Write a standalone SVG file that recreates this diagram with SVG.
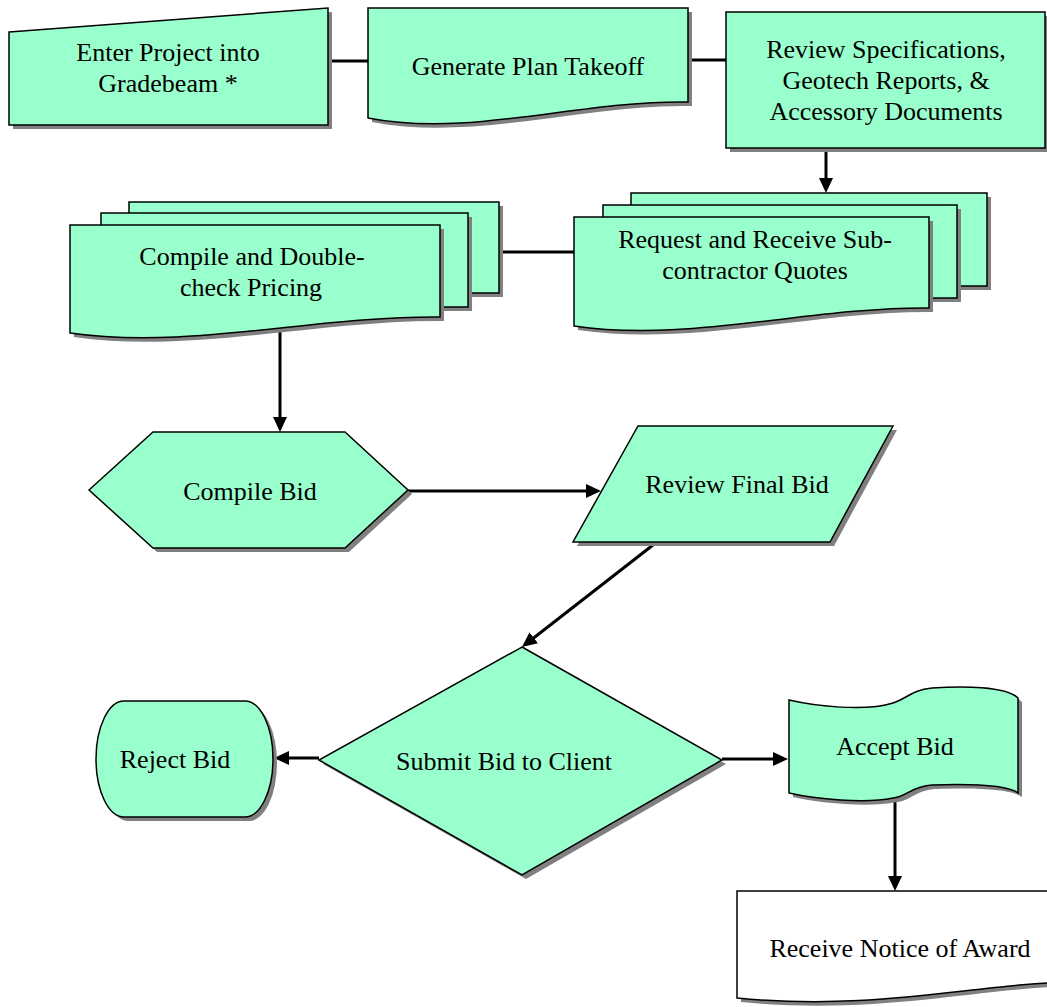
<svg xmlns="http://www.w3.org/2000/svg" width="1047" height="1007" viewBox="0 0 1047 1007">
  <style>
    .shape { fill: #99FFCC; stroke: #000; stroke-width: 1.5; stroke-linejoin: miter; }
    .paper { fill: #FFFFFF; stroke: #000; stroke-width: 1.5; }
    .shadow { fill: #808080; stroke: none; }
    .label { font-family: "Liberation Serif", "Times New Roman", serif; font-size: 26px; text-anchor: middle; fill: #000; }
    .conn { stroke: #000; stroke-width: 3; fill: none; }
  </style>
  <defs>
    <marker id="arrow" markerUnits="userSpaceOnUse" markerWidth="15" markerHeight="15" refX="8" refY="7.5" orient="auto">
      <path d="M0,0.5 L15,7.5 L0,14.5 Z" fill="#000"/>
    </marker>
    <!-- shape outlines, each drawn once as a shadow and once filled -->
    <path id="s-enter" d="M9,32 L328,8 L328,125 L9,125 Z"/>
    <path id="s-takeoff" d="M368,8 H688 V102 C580,100 470,138 368,118 Z"/>
    <rect id="s-review" x="726" y="12" width="319" height="136"/>
    <rect id="s-price-3" x="129" y="202" width="370" height="91"/>
    <rect id="s-price-2" x="101" y="213" width="367" height="94"/>
    <path id="s-price-1" d="M70,225 H440 V317 C314,316 188,350 70,333 Z"/>
    <rect id="s-quote-3" x="631" y="193" width="356" height="93"/>
    <rect id="s-quote-2" x="603" y="205" width="354" height="93"/>
    <path id="s-quote-1" d="M574,217 H929 V308 C809,307 688,343 574,326 Z"/>
    <polygon id="s-compile" points="89,490 153,432 345,432 408,490 345,548 153,548"/>
    <polygon id="s-final" points="638,426 893,426 830,542 573,542"/>
    <polygon id="s-submit" points="522,647 722,760 522,875 319,760"/>
    <path id="s-reject" d="M124,701 H245 A28,58 0 0 1 245,817 H124 A28,58 0 0 1 124,701 Z"/>
    <path id="s-accept" d="M789,700 C815,706 865,712 893,703 C906,699 912,690 932,688 C962,686 1006,686 1018,698 V793 C1006,784 962,784 932,785 C912,786 906,797 893,798 C865,804 815,799 789,793 Z"/>
    <path id="s-award" d="M737,891 H1080 V982 C980,982 880,1012 737,998 Z"/>
  </defs>

  <!-- connectors -->
  <g id="connectors">
    <line class="conn" x1="328" y1="61" x2="368" y2="61"/>
    <line class="conn" x1="688" y1="60" x2="726" y2="60"/>
    <line class="conn" x1="826" y1="148" x2="826" y2="186" marker-end="url(#arrow)"/>
    <line class="conn" x1="499" y1="252" x2="574" y2="252"/>
    <line class="conn" x1="280" y1="330" x2="280" y2="425" marker-end="url(#arrow)"/>
    <line class="conn" x1="408" y1="491" x2="594" y2="491" marker-end="url(#arrow)"/>
    <line class="conn" x1="653" y1="545" x2="527.5" y2="642.7" marker-end="url(#arrow)"/>
    <line class="conn" x1="319" y1="758" x2="281" y2="758" marker-end="url(#arrow)"/>
    <line class="conn" x1="722" y1="759" x2="781" y2="759" marker-end="url(#arrow)"/>
    <line class="conn" x1="895" y1="797" x2="895" y2="884" marker-end="url(#arrow)"/>
  </g>

  <g id="node-enter-project">
    <use href="#s-enter" class="shadow" transform="translate(4,4)"/>
    <use href="#s-enter" class="shape"/>
    <text class="label" x="168" y="61">Enter Project into</text>
    <text class="label" x="168" y="92">Gradebeam *</text>
  </g>

  <g id="node-plan-takeoff">
    <use href="#s-takeoff" class="shadow" transform="translate(4,4)"/>
    <use href="#s-takeoff" class="shape"/>
    <text class="label" x="528" y="75">Generate Plan Takeoff</text>
  </g>

  <g id="node-review-specs">
    <use href="#s-review" class="shadow" transform="translate(4,4)"/>
    <use href="#s-review" class="shape"/>
    <text class="label" x="886" y="58">Review Specifications,</text>
    <text class="label" x="886" y="89">Geotech Reports, &amp;</text>
    <text class="label" x="886" y="120">Accessory Documents</text>
  </g>

  <g id="node-pricing">
    <use href="#s-price-3" class="shadow" transform="translate(4,4)"/>
    <use href="#s-price-3" class="shape"/>
    <use href="#s-price-2" class="shadow" transform="translate(4,4)"/>
    <use href="#s-price-2" class="shape"/>
    <use href="#s-price-1" class="shadow" transform="translate(4,4)"/>
    <use href="#s-price-1" class="shape"/>
    <text class="label" x="252" y="265">Compile and Double-</text>
    <text class="label" x="251" y="296">check Pricing</text>
  </g>

  <g id="node-sub-quotes">
    <use href="#s-quote-3" class="shadow" transform="translate(4,4)"/>
    <use href="#s-quote-3" class="shape"/>
    <use href="#s-quote-2" class="shadow" transform="translate(4,4)"/>
    <use href="#s-quote-2" class="shape"/>
    <use href="#s-quote-1" class="shadow" transform="translate(4,4)"/>
    <use href="#s-quote-1" class="shape"/>
    <text class="label" x="755" y="248">Request and Receive Sub-</text>
    <text class="label" x="755" y="279">contractor Quotes</text>
  </g>

  <g id="node-compile-bid">
    <use href="#s-compile" class="shadow" transform="translate(4,4)"/>
    <use href="#s-compile" class="shape"/>
    <text class="label" x="250" y="500">Compile Bid</text>
  </g>

  <g id="node-review-final">
    <use href="#s-final" class="shadow" transform="translate(4,4)"/>
    <use href="#s-final" class="shape"/>
    <text class="label" x="737" y="493">Review Final Bid</text>
  </g>

  <g id="node-submit">
    <use href="#s-submit" class="shadow" transform="translate(4,4)"/>
    <use href="#s-submit" class="shape"/>
    <text class="label" x="504" y="770">Submit Bid to Client</text>
  </g>

  <g id="node-reject">
    <use href="#s-reject" class="shadow" transform="translate(4,4)"/>
    <use href="#s-reject" class="shape"/>
    <text class="label" x="175" y="768">Reject Bid</text>
  </g>

  <g id="node-accept">
    <use href="#s-accept" class="shadow" transform="translate(4,4)"/>
    <use href="#s-accept" class="shape"/>
    <text class="label" x="895" y="755">Accept Bid</text>
  </g>

  <g id="node-award">
    <use href="#s-award" class="shadow" transform="translate(4,4)"/>
    <use href="#s-award" class="paper"/>
    <text class="label" x="900" y="957">Receive Notice of Award</text>
  </g>
</svg>
